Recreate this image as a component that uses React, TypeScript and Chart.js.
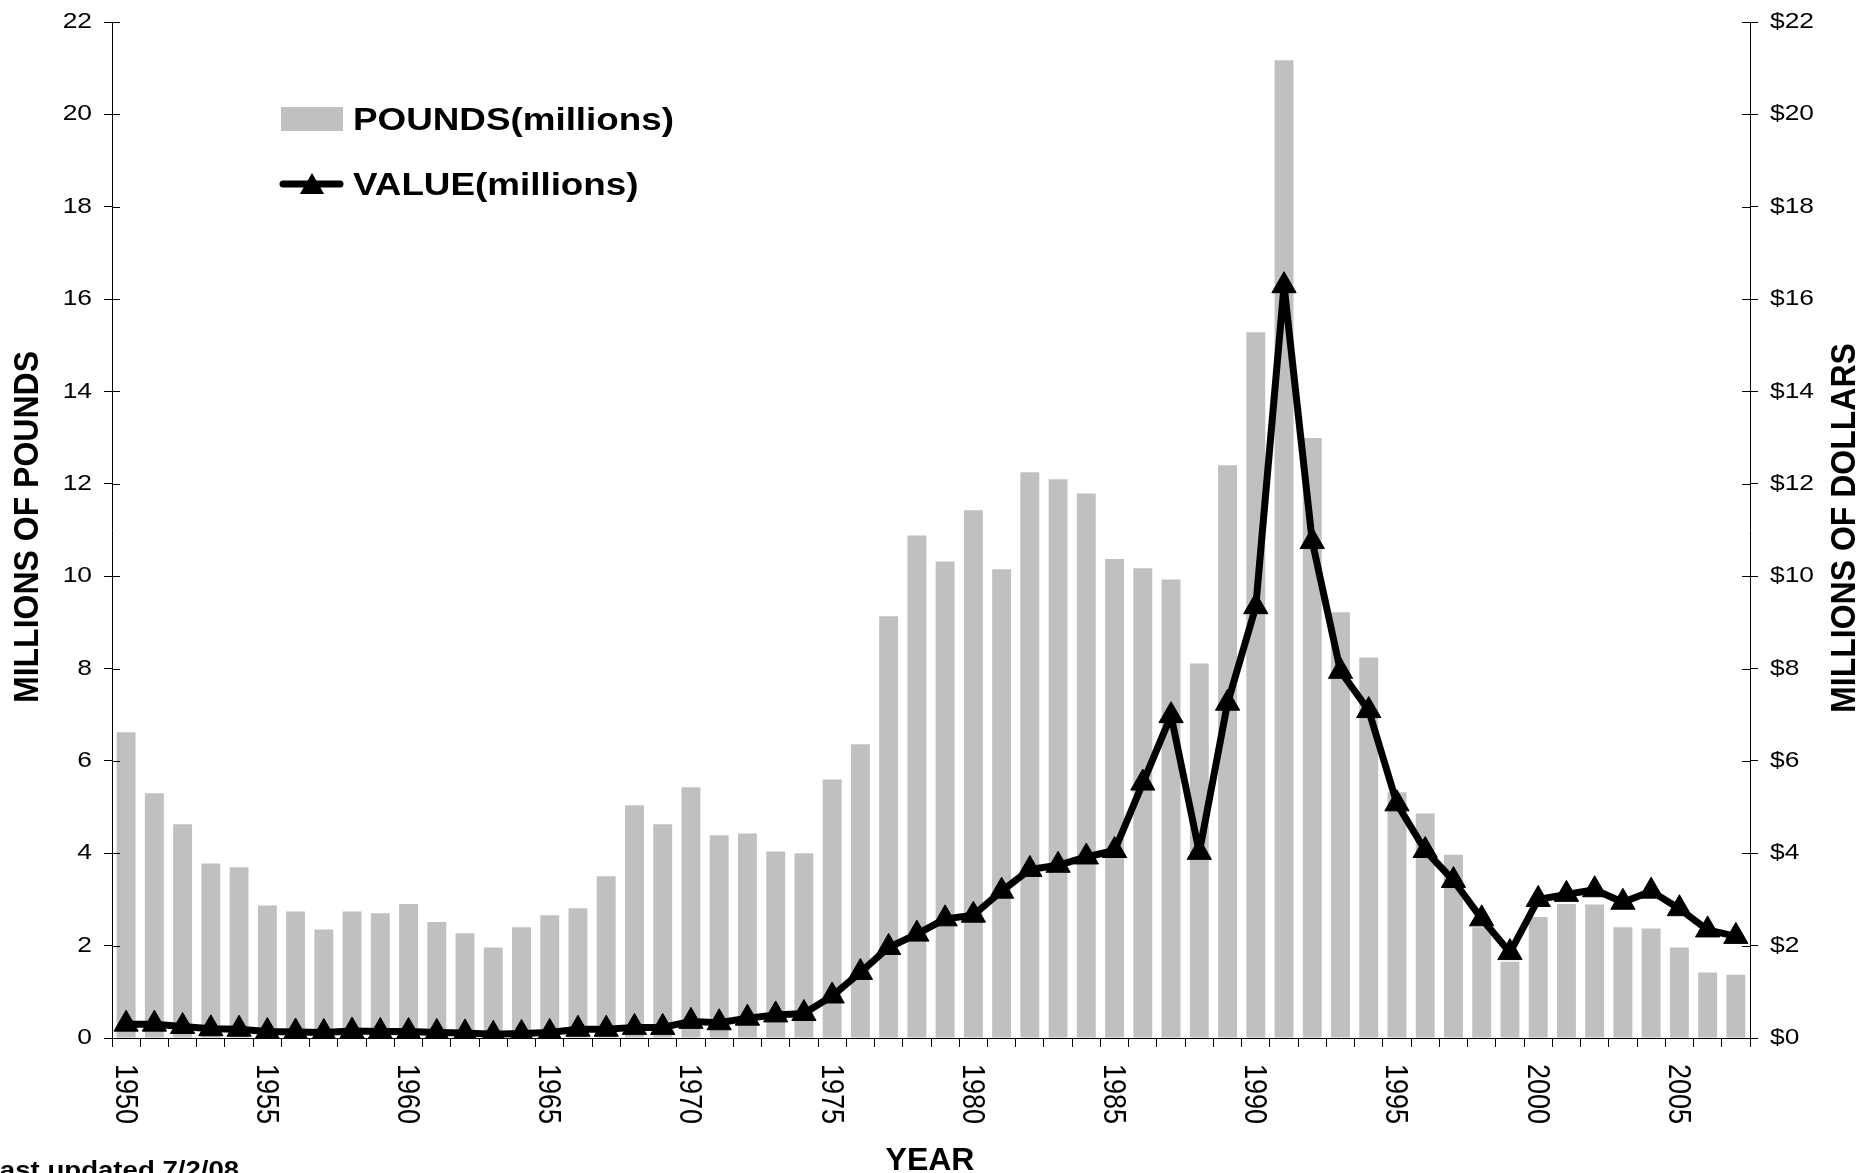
import React, { useEffect, useRef } from "react";
import { Chart, registerables } from "chart.js";

Chart.register(...registerables);

const years: string[] = [];
for (let y = 1950; y <= 2007; y++) years.push(String(y));

const pounds: number[] = [
  6.62, 5.30, 4.63, 3.78, 3.70, 2.87, 2.74, 2.35, 2.74, 2.70,
  2.90, 2.51, 2.27, 1.96, 2.40, 2.66, 2.81, 3.50, 5.04, 4.63,
  5.43, 4.39, 4.43, 4.04, 4.00, 5.60, 6.36, 9.13, 10.88, 10.32,
  11.43, 10.15, 12.25, 12.10, 11.79, 10.37, 10.17, 9.93, 8.11, 12.40,
  15.28, 21.17, 12.99, 9.22, 8.24, 5.32, 4.86, 3.97, 2.40, 1.65,
  2.62, 2.90, 2.89, 2.40, 2.37, 1.96, 1.42, 1.37,
];

const value: number[] = [
  0.30, 0.30, 0.25, 0.20, 0.19, 0.14, 0.13, 0.12, 0.15, 0.14,
  0.14, 0.12, 0.11, 0.08, 0.10, 0.12, 0.19, 0.19, 0.23, 0.23,
  0.36, 0.33, 0.43, 0.50, 0.53, 0.91, 1.42, 1.96, 2.25, 2.58,
  2.66, 3.18, 3.65, 3.74, 3.92, 4.06, 5.52, 6.98, 4.02, 7.25,
  9.34, 16.29, 10.75, 7.94, 7.09, 5.07, 4.06, 3.41, 2.58, 1.85,
  3.00, 3.11, 3.21, 2.94, 3.18, 2.80, 2.34, 2.20,
];

const leftTicks: number[] = [0, 2, 4, 6, 8, 10, 12, 14, 16, 18, 20, 22];
const rightTickLabels: string[] = leftTicks.map((v) => "$" + v);
const xLabelYears: string[] = ["1950", "1955", "1960", "1965", "1970", "1975", "1980", "1985", "1990", "1995", "2000", "2005"];

const FONT = "'Liberation Sans', Arial, sans-serif";

function txt(
  ctx: CanvasRenderingContext2D,
  s: string,
  x: number,
  y: number,
  font: string,
  align: CanvasTextAlign,
  baseline: CanvasTextBaseline,
  rot: number,
  sx: number
) {
  ctx.save();
  ctx.translate(x, y);
  ctx.scale(sx, 1);
  ctx.rotate(rot);
  ctx.font = font;
  ctx.textAlign = align;
  ctx.textBaseline = baseline;
  ctx.fillStyle = "#000";
  ctx.fillText(s, 0, 0);
  ctx.restore();
}

const textPlugin = {
  id: "customText",
  afterDraw(chart: any) {
    const ctx: CanvasRenderingContext2D = chart.ctx;
    const ys = chart.scales.y;
    const ys1 = chart.scales.y1;
    const xs = chart.scales.x;
    const area = chart.chartArea;

    // inner tick marks on y axes (cross style)
    ctx.save();
    ctx.strokeStyle = "#000";
    ctx.lineWidth = 1;
    leftTicks.forEach((v) => {
      const py = Math.round(ys.getPixelForValue(v)) + 0.5;
      ctx.beginPath();
      ctx.moveTo(area.left, py);
      ctx.lineTo(area.left + 8, py);
      ctx.stroke();
      const py1 = Math.round(ys1.getPixelForValue(v)) + 0.5;
      ctx.beginPath();
      ctx.moveTo(area.right, py1);
      ctx.lineTo(area.right - 8, py1);
      ctx.stroke();
    });
    ctx.restore();

    // y tick labels
    leftTicks.forEach((v, i) => {
      txt(ctx, String(v), 92, ys.getPixelForValue(v), `22px ${FONT}`, "right", "middle", 0, 1.2);
      txt(ctx, rightTickLabels[i], 1770, ys1.getPixelForValue(v), `22px ${FONT}`, "left", "middle", 0, 1.2);
    });

    // x tick labels (rotated, reading downward)
    xLabelYears.forEach((yr) => {
      const idx = years.indexOf(yr);
      const px = xs.getPixelForValue(idx);
      txt(ctx, yr, px - 2, 1064, `27px ${FONT}`, "left", "middle", Math.PI / 2, 1.15);
    });

    // axis titles
    txt(ctx, "MILLIONS OF POUNDS", 28, 527, `bold 32px ${FONT}`, "center", "middle", -Math.PI / 2, 1.1);
    txt(ctx, "MILLIONS OF DOLLARS", 1845, 528, `bold 32px ${FONT}`, "center", "middle", -Math.PI / 2, 1.1);
    txt(ctx, "YEAR", 930, 1170, `bold 32px ${FONT}`, "center", "alphabetic", 0, 1.0);
    txt(ctx, "Last updated 7/2/08", -17, 1178, `bold 24px ${FONT}`, "left", "alphabetic", 0, 1.15);

    // legend
    ctx.save();
    ctx.fillStyle = "#C0C0C0";
    ctx.fillRect(281, 107, 62, 24);
    ctx.strokeStyle = "#000";
    ctx.lineWidth = 7;
    ctx.lineCap = "round";
    ctx.beginPath();
    ctx.moveTo(283, 184);
    ctx.lineTo(340, 184);
    ctx.stroke();
    ctx.fillStyle = "#000";
    const r = 14;
    const cx = 312;
    const cy = 187;
    ctx.beginPath();
    ctx.moveTo(cx, cy - r);
    ctx.lineTo(cx + r * Math.sin(Math.PI / 3), cy + r / 2);
    ctx.lineTo(cx - r * Math.sin(Math.PI / 3), cy + r / 2);
    ctx.closePath();
    ctx.fill();
    ctx.restore();
    txt(ctx, "POUNDS(millions)", 353, 130, `bold 32px ${FONT}`, "left", "alphabetic", 0, 1.15);
    txt(ctx, "VALUE(millions)", 353, 195, `bold 32px ${FONT}`, "left", "alphabetic", 0, 1.15);
  },
};

export default function App() {
  const ref = useRef<HTMLCanvasElement | null>(null);

  useEffect(() => {
    if (!ref.current) return;
    const chart = new Chart(ref.current, {
      type: "bar",
      data: {
        labels: years,
        datasets: [
          {
            type: "bar",
            label: "POUNDS(millions)",
            data: pounds,
            yAxisID: "y",
            backgroundColor: "#C0C0C0",
            borderWidth: 0,
            barPercentage: 0.67,
            categoryPercentage: 1.0,
            order: 2,
          },
          {
            type: "line",
            label: "VALUE(millions)",
            data: value,
            yAxisID: "y1",
            borderColor: "#000",
            borderWidth: 7,
            borderJoinStyle: "round",
            tension: 0,
            pointStyle: "triangle",
            pointRadius: 14,
            pointBackgroundColor: "#000",
            pointBorderColor: "#000",
            pointBorderWidth: 1,
            order: 1,
          },
        ],
      },
      options: {
        animation: false,
        responsive: true,
        maintainAspectRatio: false,
        layout: { padding: { top: 22, left: 0, right: 0, bottom: 0 } },
        plugins: {
          legend: { display: false },
          tooltip: { enabled: false },
        },
        scales: {
          x: {
            type: "category",
            offset: true,
            grid: {
              display: true,
              offset: true,
              drawOnChartArea: false,
              drawTicks: true,
              tickLength: 9,
              color: "#000",
              lineWidth: 1,
            },
            border: { display: true, color: "#000", width: 1 },
            ticks: { display: false },
            afterFit: (scale: any) => {
              scale.height = 135;
            },
          },
          y: {
            type: "linear",
            position: "left",
            min: 0,
            max: 22,
            ticks: { display: false, stepSize: 2 },
            grid: {
              display: true,
              drawOnChartArea: false,
              drawTicks: true,
              tickLength: 8,
              color: "#000",
            },
            border: { display: true, color: "#000", width: 1 },
            afterFit: (scale: any) => {
              scale.width = 112;
            },
          },
          y1: {
            type: "linear",
            position: "right",
            min: 0,
            max: 22,
            ticks: { display: false, stepSize: 2 },
            grid: {
              display: true,
              drawOnChartArea: false,
              drawTicks: true,
              tickLength: 8,
              color: "#000",
            },
            border: { display: true, color: "#000", width: 1 },
            afterFit: (scale: any) => {
              scale.width = 113;
            },
          },
        },
      },
      plugins: [textPlugin],
    });
    return () => chart.destroy();
  }, []);

  return (
    <div style={{ position: "absolute", left: 0, top: 0, width: 1863, height: 1173, background: "#fff" }}>
      <canvas ref={ref} />
    </div>
  );
}
